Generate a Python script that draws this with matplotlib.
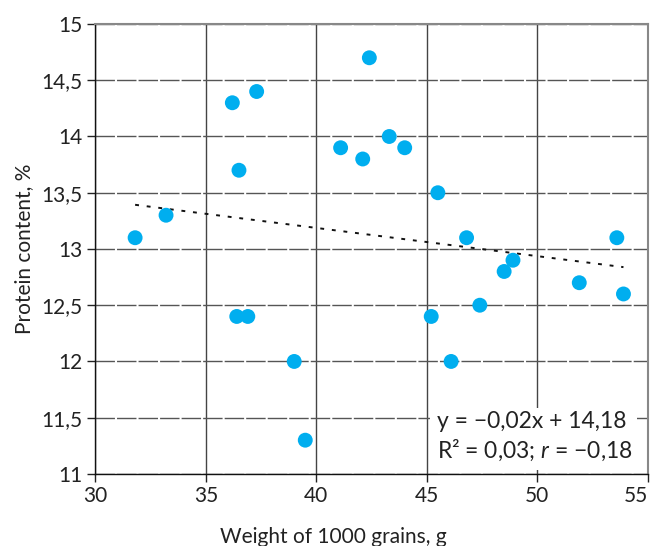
import numpy as np
import matplotlib.pyplot as plt
from matplotlib.patches import Rectangle
from matplotlib.ticker import FuncFormatter, MultipleLocator

plt.rcParams['font.family'] = ['Lato', 'DejaVu Sans']
plt.rcParams['mathtext.fontset'] = 'custom'
plt.rcParams['mathtext.rm'] = 'Lato'
plt.rcParams['mathtext.it'] = 'Lato:italic'

# weight of 1000 grains (g) and protein content (%)
weight = [31.8, 33.2, 36.2, 37.3, 36.5, 36.4, 36.9, 39.0, 39.5, 42.4, 41.1, 42.1,
          43.3, 44.0, 45.5, 46.8, 45.2, 46.1, 47.4, 48.5, 48.9, 51.9, 53.6, 53.9]
protein = [13.1, 13.3, 14.3, 14.4, 13.7, 12.4, 12.4, 12.0, 11.3, 14.7, 13.9, 13.8,
           14.0, 13.9, 13.5, 13.1, 12.4, 12.0, 12.5, 12.8, 12.9, 12.7, 13.1, 12.6]

eq_line1 = 'y = \u22120,02x + 14,18'
eq_line2 = 'R\u00b2 = 0,03; $r$ = \u22120,18'

fig = plt.figure(figsize=(6.53, 5.46), dpi=100)
ax = fig.add_axes([0.146, 0.132, 0.846, 0.824])

ax.set_xlim(30, 55)
ax.set_ylim(11, 15)
ax.xaxis.set_major_locator(MultipleLocator(5))
ax.yaxis.set_major_locator(MultipleLocator(0.5))
comma = FuncFormatter(lambda v, p: f'{v:g}'.replace('.', ','))
ax.xaxis.set_major_formatter(comma)
ax.yaxis.set_major_formatter(comma)

# grid: solid verticals, long-dash horizontals
ax.grid(axis='x', color='#444444', lw=1.0, zorder=0)
ax.grid(axis='y', color='#555555', lw=1.0, linestyle=(0, (14, 1.5)), zorder=0)
ax.set_axisbelow(True)

for s in ['top', 'right']:
    ax.spines[s].set_color('#888888')
    ax.spines[s].set_linewidth(1.5)
for s in ['left', 'bottom']:
    ax.spines[s].set_color('#111111')
    ax.spines[s].set_linewidth(1.0)

ax.tick_params(direction='out', length=6, width=1, colors='#222222',
               labelsize=15, pad=3)

ax.scatter(weight, protein, s=115, color='#00AEEF', edgecolors='none', zorder=3)

# linear trend
slope, intercept = np.polyfit(weight, protein, 1)
xs = np.array([min(weight), max(weight)])
ax.plot(xs, slope * xs + intercept, color='#111111', lw=1.4,
        linestyle=(0, (2, 4)), zorder=2)

# white box behind the regression text
ax.add_patch(Rectangle((0.606, 0.009), 0.374, 0.138, transform=ax.transAxes,
                       fc='white', ec='none', zorder=4))
ax.text(0.618, 0.102, eq_line1, transform=ax.transAxes, fontsize=16.5,
        color='#222222', ha='left', va='baseline', zorder=5)
ax.text(0.618, 0.036, eq_line2, transform=ax.transAxes, fontsize=16.5,
        color='#222222', ha='left', va='baseline', zorder=5)

ax.set_ylabel('Protein content, %', fontsize=15, color='#222222')
ax.yaxis.set_label_coords(-0.11, 0.5)
ax.text(0.43, -0.153, 'Weight of 1000 grains, g', transform=ax.transAxes,
        fontsize=15, color='#222222', ha='center', va='baseline')

# last x tick label sits against the right edge, as in the source
fig.canvas.draw()
for tick in ax.xaxis.get_major_ticks():
    if tick.get_loc() == 55:
        tick.label1.set_horizontalalignment('right')

fig.savefig('out.png', dpi=100)
